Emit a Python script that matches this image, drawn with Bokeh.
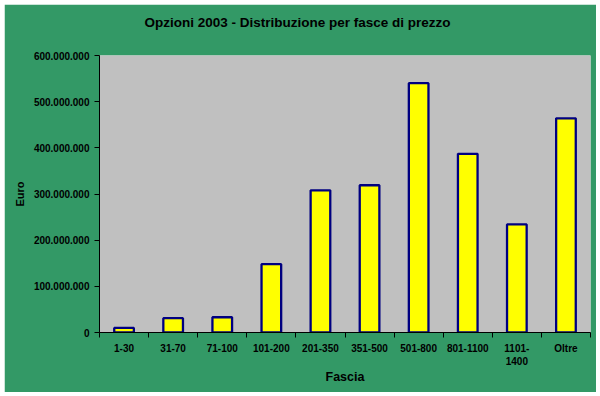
from bokeh.plotting import figure
from bokeh.models import Range1d, FixedTicker, ColumnDataSource, LinearAxis
from bokeh.embed import file_html
from bokeh.resources import INLINE

# ---- data ----
categories = ["1-30", "31-70", "71-100", "101-200", "201-350", "351-500",
              "501-800", "801-1100", "1101-\n1400", "Oltre"]
values = [10_000_000, 31_000_000, 33_000_000, 148_000_000, 308_000_000,
          319_000_000, 540_000_000, 387_000_000, 234_000_000, 464_000_000]
y_ticks = [0, 100_000_000, 200_000_000, 300_000_000, 400_000_000,
           500_000_000, 600_000_000]
title_text = "Opzioni 2003 - Distribuzione per fasce di prezzo"
x_title = "Fascia"
y_title = "Euro"

FONT = "Liberation Sans"
GREEN = "#339966"
GRAY = "#C0C0C0"
INK = "#000000"

n = len(categories)
centers = [i + 0.5 for i in range(n)]
source = ColumnDataSource(data=dict(x=centers, top=values, cat=categories))

p = figure(width=592, height=388, margin=(4, 4, 4, 4),
           output_backend="svg", toolbar_location=None,
           x_range=Range1d(0, n), y_range=Range1d(0, y_ticks[-1]),
           background_fill_color=GRAY, border_fill_color=GREEN,
           outline_line_color=None,
           min_border_left=95, min_border_right=6,
           min_border_top=51, min_border_bottom=60)
p.grid.visible = False

p.vbar(x="x", top="top", bottom=0, width=0.4, source=source,
       fill_color="#FFFF00", line_color="#000080", line_width=2.3)

xa = p.below[0]
ya = p.left[0]

# invisible spacer between the plot area and the title
spacer = LinearAxis(ticker=FixedTicker(ticks=[0], minor_ticks=[]),
                    major_label_overrides={0: ""},
                    major_tick_in=0, major_tick_out=26, minor_tick_in=0,
                    minor_tick_out=0,
                    axis_line_color=None, major_tick_line_color=None,
                    minor_tick_line_color=None, major_label_standoff=0)
p.add_layout(spacer, "above")

# title
p.title.text = title_text
p.title.align = "left"
p.title.offset = 45
p.title.standoff = 0
p.title.text_font = FONT
p.title.text_font_style = "bold"
p.title.text_font_size = "13.5px"
p.title.text_color = INK

# x axis: labels at centres, tick marks between categories
xa.ticker = FixedTicker(ticks=centers, minor_ticks=list(range(n + 1)))
xa.major_label_overrides = {c: lab for c, lab in zip(centers, categories)}
xa.major_tick_line_color = None
xa.minor_tick_in = 0
xa.minor_tick_out = 5
xa.minor_tick_line_color = "black"
xa.axis_line_color = "black"
xa.major_label_text_font = FONT
xa.major_label_text_font_style = "bold"
xa.major_label_text_font_size = "10px"
xa.major_label_text_color = INK
xa.major_label_standoff = 4
xa.axis_label = x_title
xa.axis_label_text_font = FONT
xa.axis_label_text_font_style = "bold"
xa.axis_label_text_font_size = "12.5px"
xa.axis_label_text_color = INK
xa.axis_label_standoff = 0

ya.ticker = FixedTicker(ticks=y_ticks, minor_ticks=[])
ya.major_label_overrides = {t: f"{t:,}".replace(",", ".") for t in y_ticks}
ya.major_tick_in = 0
ya.major_tick_out = 5
ya.major_tick_line_color = "black"
ya.axis_line_color = "black"
ya.major_label_text_font = FONT
ya.major_label_text_font_style = "bold"
ya.major_label_text_font_size = "10px"
ya.major_label_text_color = INK
ya.major_label_standoff = 5
ya.axis_label = y_title
ya.axis_label_text_font = FONT
ya.axis_label_text_font_style = "bold"
ya.axis_label_text_font_size = "11px"
ya.axis_label_text_color = INK
ya.axis_label_standoff = 5

open("out.html", "w").write(file_html(p, INLINE))
